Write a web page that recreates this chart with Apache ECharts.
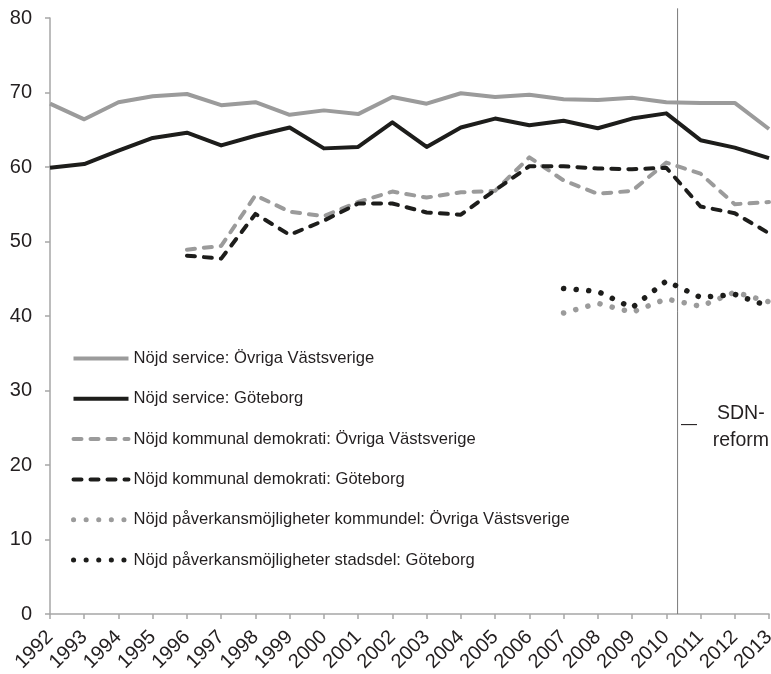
<!DOCTYPE html>
<html>
<head>
<meta charset="utf-8">
<script src="https://cdn.jsdelivr.net/npm/echarts@6/dist/echarts.min.js"></script>
<style>
  html, body { margin: 0; padding: 0; background: #fff; }
  #main { width: 771px; height: 674px; }
</style>
</head>
<body>
<div id="main"></div>
<script>
// år och serier
var years = [1992, 1993, 1994, 1995, 1996, 1997, 1998, 1999, 2000, 2001, 2002,
             2003, 2004, 2005, 2006, 2007, 2008, 2009, 2010, 2011, 2012, 2013];
var serviceOvriga = [68.5, 66.4, 68.7, 69.5, 69.8, 68.3, 68.7, 67.0, 67.6, 67.1, 69.4,
                     68.5, 69.9, 69.4, 69.7, 69.1, 69.0, 69.3, 68.7, 68.6, 68.6, 65.1];
var serviceGbg = [59.9, 60.4, 62.2, 63.9, 64.6, 62.9, 64.2, 65.3, 62.5, 62.7, 66.0,
                  62.7, 65.3, 66.5, 65.6, 66.2, 65.2, 66.5, 67.2, 63.6, 62.6, 61.2];
var demokratiOvriga = [null, null, null, null, 48.9, 49.4, 56.2, 54.0, 53.4, 55.3, 56.7,
                       55.9, 56.6, 56.8, 61.3, 58.2, 56.4, 56.8, 60.6, 59.1, 55.0, 55.3];
var demokratiGbg = [null, null, null, null, 48.1, 47.7, 53.7, 50.9, 52.8, 55.1, 55.1,
                    53.9, 53.6, 56.9, 60.1, 60.1, 59.8, 59.7, 59.9, 54.7, 53.8, 51.1];
var paverkanOvriga = [null, null, null, null, null, null, null, null, null, null, null,
                      null, null, null, null, 40.4, 41.7, 40.5, 42.3, 41.3, 43.2, 41.9];
var paverkanGbg = [null, null, null, null, null, null, null, null, null, null, null,
                   null, null, null, null, 43.7, 43.3, 41.1, 44.7, 42.5, 42.9, 41.3];
var seriesNames = [
  'Nöjd service: Övriga Västsverige',
  'Nöjd service: Göteborg',
  'Nöjd kommunal demokrati: Övriga Västsverige',
  'Nöjd kommunal demokrati: Göteborg',
  'Nöjd påverkansmöjligheter kommundel: Övriga Västsverige',
  'Nöjd påverkansmöjligheter stadsdel: Göteborg'
];
var reformYear = 2010.33;
var reformLine = [0, 81.3];
var yTicks = [0, 10, 20, 30, 40, 50, 60, 70, 80];

var GRAY = '#9b9b9b';
var BLACK = '#1d1d1b';
var TEXT = '#231f20';
var FONT = '"Liberation Sans", Arial, sans-serif';
var DASH = [8, 9];
var DOT = [0.1, 12.5];

function pairs(vals) {
  return years.map(function (y, i) { return [y, vals[i]]; });
}

function lineSeries(name, vals, color, kind) {
  var width = kind === 'dot' ? 5.5 : 4;
  var type = kind === 'dot' ? DOT : (kind === 'dash' ? DASH : 'solid');
  return {
    name: name,
    type: 'line',
    data: pairs(vals),
    symbol: 'none',
    showSymbol: false,
    connectNulls: false,
    clip: false,
    lineStyle: { color: color, width: width, type: type, cap: kind ? 'round' : 'butt', join: 'round' },
    itemStyle: { color: color },
    emphasis: { disabled: true }
  };
}

var series = [
  lineSeries(seriesNames[0], serviceOvriga, GRAY),
  lineSeries(seriesNames[1], serviceGbg, BLACK),
  lineSeries(seriesNames[2], demokratiOvriga, GRAY, 'dash'),
  lineSeries(seriesNames[3], demokratiGbg, BLACK, 'dash'),
  lineSeries(seriesNames[4], paverkanOvriga, GRAY, 'dot'),
  lineSeries(seriesNames[5], paverkanGbg, BLACK, 'dot'),
  {
    // SDN-reformens linje
    name: 'SDN-reform',
    type: 'line',
    data: reformLine.map(function (v) { return [reformYear, v]; }),
    symbol: 'none',
    clip: false,
    silent: true,
    z: 1,
    lineStyle: { color: '#7a7a7a', width: 1 }
  }
];

var legendData = seriesNames.map(function (n, i) {
  return { name: n, lineStyle: { width: i >= 4 ? 5 : 4 } };
});

var chart = echarts.init(document.getElementById('main'), null, { renderer: 'canvas' });
chart.setOption({
  animation: false,
  backgroundColor: '#fff',
  textStyle: { fontFamily: FONT },
  grid: { left: 50, right: 2, top: 18, bottom: 60, containLabel: false, outerBoundsMode: 'none' },
  legend: {
    orient: 'vertical',
    left: 71,
    top: 348.5,
    padding: 0,
    itemWidth: 55,
    itemHeight: 20,
    itemGap: 20.3,
    selectedMode: false,
    itemStyle: { opacity: 0 },
    textStyle: { color: TEXT, fontSize: 16.6, fontFamily: FONT, lineHeight: 20 },
    data: legendData
  },
  xAxis: {
    type: 'value',
    min: years[0],
    max: years[years.length - 1],
    interval: 1,
    splitLine: { show: false },
    axisLine: { lineStyle: { color: '#a6a6a6', width: 1.5 } },
    axisTick: { show: true, length: 5, lineStyle: { color: '#a6a6a6', width: 1.5 } },
    axisLabel: { rotate: 45, margin: 20, color: TEXT, fontSize: 20, fontFamily: FONT, formatter: function (v) { return String(v); } }
  },
  yAxis: {
    type: 'value',
    min: yTicks[0],
    max: yTicks[yTicks.length - 1],
    interval: 10,
    splitLine: { show: false },
    axisLine: { show: true, lineStyle: { color: '#a6a6a6', width: 1.5 } },
    axisTick: { show: true, length: 5, lineStyle: { color: '#a6a6a6', width: 1.5 } },
    axisLabel: { margin: 18, color: TEXT, fontSize: 20, fontFamily: FONT }
  },
  graphic: [
    { type: 'text', right: 2, top: 400, style: { text: 'SDN-\nreform', fill: TEXT, font: '19.5px ' + FONT, textAlign: 'center', lineHeight: 27 } },
    { type: 'text', left: 681, top: 417, style: { text: '—', fill: TEXT, font: '16px ' + FONT } }
  ],
  series: series
});
</script>
</body>
</html>
